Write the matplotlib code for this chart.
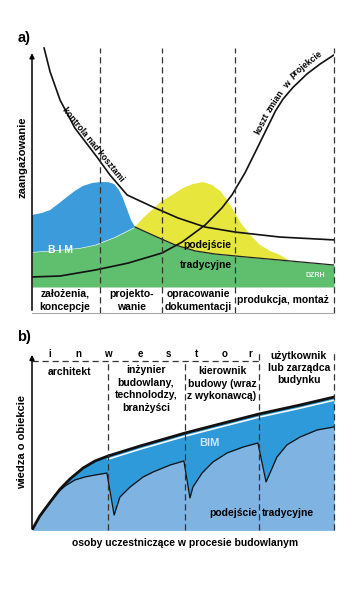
import numpy as np
import matplotlib.pyplot as plt

plt.rcParams['font.family'] = ['Liberation Sans', 'DejaVu Sans']
plt.rcParams['font.weight'] = 'bold'

# ---------- panel a: engagement over project phases (x: 0-100, y: 0-100) ----------
phase_edges = [22.5, 43.0, 67.2, 100]
phase_labels = ['założenia,\nkoncepcje', 'projekto-\nwanie',
                'opracowanie\ndokumentacji', 'produkcja, montaż']
phase_label_x = [10.9, 32.8, 55.2, 83.1]

# "kontrola nad kosztami" - falling curve
control_x = [4.0, 6.0, 9.3, 14.2, 21.5, 25.8, 31.5, 40.7, 48.3, 57.3, 67.2, 82.1, 100]
control_y = [100, 90.0, 78.2, 66.5, 54.4, 46.9, 38.5, 33.1, 28.9, 25.1, 23.0, 20.9, 19.7]

# "koszt zmian w projekcie" - rising curve
change_x = [0, 9.3, 20.9, 31.8, 43.0, 49.7, 57.3, 62.9, 66.2, 70.5, 73.8, 77.8, 80.6,
            83.1, 86.4, 91.1, 95.4, 100]
change_y = [4.2, 4.6, 7.1, 10.0, 14.2, 18.8, 25.9, 33.1, 38.5, 47.7, 56.1, 66.4, 73.6,
            78.6, 83.5, 89.2, 93.3, 97.1]
# words of the curved label, placed along the rising curve
change_words = ['koszt', 'zmian', 'w', 'projekcie']
change_word_x = [76.3, 80.6, 84.4, 90.7]
change_word_y = [68.4, 77.8, 84.4, 92.9]
change_word_rot = [64, 57, 49, 38]

# base effort (green)
base_x = [0, 9.3, 15.9, 20.9, 27.5, 34.1, 40.7, 47.4, 54.0, 60.6, 70.5, 85.4, 100]
base_y = [14.6, 15.5, 16.3, 17.6, 20.9, 25.1, 21.3, 17.6, 15.1, 13.8, 12.6, 10.9, 9.2]

# BIM effort (blue)
bim_x = [0, 3.3, 6.0, 8.6, 11.6, 14.2, 16.9, 19.9, 22.5, 25.2, 27.2, 28.8, 30.1, 31.8, 32.8, 34.1]
bim_y = [30.1, 31.0, 32.2, 34.7, 37.7, 40.2, 42.3, 43.5, 43.9, 43.9, 43.1, 40.6, 37.2, 31.4, 28.0, 25.1]

# traditional approach effort (yellow)
trad_x = [34.1, 36.8, 39.7, 43.0, 46.4, 50.0, 53.3, 56.6, 59.6, 62.3, 64.6, 66.6, 68.9,
          72.2, 75.5, 78.8, 82.1, 85.4]
trad_y = [25.1, 28.9, 32.2, 36.0, 38.5, 41.4, 43.1, 43.9, 42.7, 40.2, 36.4, 32.2, 27.2,
          21.8, 17.6, 15.1, 13.4, 10.9]

# ---------- panel b: knowledge about the building ----------
role_edges = [25.2, 50.7, 75.2, 100]
investor_letters = list('inwestor')
letter_x = [6.0, 15.2, 25.2, 35.8, 45.0, 54.6, 63.9, 72.2]
role_labels = ['architekt', 'inżynier\nbudowlany,\ntechnolodzy,\nbranżyści',
               'kierownik\nbudowy (wraz\nz wykonawcą)', 'użytkownik\nlub zarządca\nbudynku']
role_label_x = [12.6, 37.7, 62.9, 88.4]
role_label_y = [88.8, 79.2, 82.3, 91.0]

know_bim_x = [0, 2.6, 6.0, 9.3, 12.6, 16.9, 20.9, 25.2, 35.8, 50.7, 62.3, 75.2, 88.7, 100]
know_bim_y = [0, 7.9, 15.7, 23.0, 28.7, 34.8, 38.8, 41.6, 47.2, 54.5, 59.6, 65.2, 70.2, 74.7]

know_trad_x = [0, 2.6, 6.0, 7.6, 10.9, 14.2, 17.5, 20.9, 24.8, 27.2, 29.1, 32.5, 36.8, 40.1,
               45.7, 50.3, 52.3, 53.3, 56.3, 59.9, 64.6, 69.9, 74.8, 77.5, 78.8, 81.1, 84.4,
               88.7, 94.4, 100]
know_trad_y = [0, 7.9, 15.7, 19.7, 24.7, 28.1, 29.8, 30.9, 32.0, 8.4, 18.5, 24.2, 29.8, 32.6,
               36.5, 38.8, 18.0, 24.2, 32.0, 38.2, 43.3, 46.6, 48.9, 27.0, 32.0, 41.0, 47.8,
               52.2, 56.2, 57.9]

GREEN, BLUE, YELLOW = '#5fbf6e', '#3b9bdb', '#e6e63c'
DARKBLUE, LIGHTBLUE = '#2f9ad9', '#7eb3e2'
dash = (0, (5, 3))

fig = plt.figure(figsize=(3.6, 5.89), dpi=100)
axa = fig.add_axes([32/360, 302/589, 302/360, 239/589])
axb = fig.add_axes([32/360, 59/589, 302/360, 178/589])
for ax in (axa, axb):
    ax.set_xlim(0, 100)
    ax.set_ylim(0, 100)
    ax.axis('off')

# ---- panel a ----
axa.fill_between(base_x, 0, base_y, color=GREEN, lw=0)
axa.fill(bim_x + base_x[5::-1], bim_y + base_y[5::-1], color=BLUE, lw=0)
axa.fill(trad_x + base_x[11:4:-1], trad_y + base_y[11:4:-1], color=YELLOW, lw=0)
axa.plot(base_x[5:], base_y[5:], color='#222222', lw=0.9)
axa.plot(control_x, control_y, color='#111111', lw=1.2, clip_on=False)
axa.plot(change_x, change_y, color='#111111', lw=1.2)
for x in phase_edges:
    axa.plot([x, x], [-10.9, 100], color='#333333', lw=0.9, ls=dash, clip_on=False)
axa.annotate('', xy=(0, 99), xytext=(0, -10.9),
             arrowprops=dict(arrowstyle='-|>', lw=1.1, color='black', mutation_scale=7))
axa.annotate('', xy=(100.8, 0), xytext=(-3, 0),
             arrowprops=dict(arrowstyle='-|>', lw=1.1, color='black', mutation_scale=7))
axa.plot([0, 100], [-10.9, -10.9], color='#aaaaaa', lw=0.8, clip_on=False)
for x, lab in zip(phase_label_x, phase_labels):
    axa.text(x, -5.6, lab, ha='center', va='center', fontsize=7.5, linespacing=1.4)
axa.text(9.3, 15.5, 'B I M', color='white', ha='center', va='center', fontsize=7.5)
axa.text(57.9, 17.6, 'podejście', ha='center', va='center', fontsize=7.5)
axa.text(57.6, 9.2, 'tradycyjne', ha='center', va='center', fontsize=7.5)
axa.text(93.7, 5.0, 'DZRH', color='#e8f6ea', ha='center', va='center', fontsize=5)
axa.text(20.1, 59.6, 'kontrola nad kosztami', rotation=-51, ha='center', va='center',
         fontsize=6.3, rotation_mode='anchor')
for w, x, y, r in zip(change_words, change_word_x, change_word_y, change_word_rot):
    axa.text(x, y, w, rotation=r, ha='center', va='center', fontsize=6.3,
             rotation_mode='anchor')
axa.text(-3.3, 54.4, 'zaangażowanie', rotation=90, ha='center', va='center', fontsize=8)
axa.text(-2.6, 104.2, 'a)', ha='center', va='center', fontsize=10.5, clip_on=False)

# ---- panel b ----
axb.fill_between(know_bim_x, 0, know_bim_y, color=DARKBLUE, lw=0)
axb.fill_between(know_trad_x, 0, know_trad_y, color=LIGHTBLUE, lw=0)
axb.plot(know_trad_x, know_trad_y, color='#111111', lw=0.9)
top_x = [x for x in know_bim_x if x >= 25.2]
top_y = [y - 1.8 for x, y in zip(know_bim_x, know_bim_y) if x >= 25.2]
axb.plot(top_x, top_y, color='white', lw=1.1)
axb.plot(know_bim_x, know_bim_y, color='#111111', lw=2.0)
for x in role_edges:
    top = 94.9 if x < 75 else 100
    axb.plot([x, x], [0, top], color='#333333', lw=0.9, ls=dash, clip_on=False)
axb.plot([0, 75.2], [94.9, 94.9], color='#333333', lw=0.9, ls=dash, clip_on=False)
axb.annotate('', xy=(0, 100), xytext=(0, -1),
             arrowprops=dict(arrowstyle='-|>', lw=1.1, color='black', mutation_scale=7))
for x, ch in zip(letter_x, investor_letters):
    axb.text(x, 98.6, ch, ha='center', va='center', fontsize=7, clip_on=False)
for x, y, lab in zip(role_label_x, role_label_y, role_labels):
    axb.text(x, y, lab, ha='center', va='center', fontsize=7.5, linespacing=1.3)
axb.text(58.9, 48.9, 'BIM', color='#cfe6f7', ha='center', va='center', fontsize=8)
axb.text(66.6, 9.6, 'podejście', ha='center', va='center', fontsize=7.5)
axb.text(84.8, 9.6, 'tradycyjne', ha='center', va='center', fontsize=7.5)
axb.text(-3.3, 49.4, 'wiedza o obiekcie', rotation=90, ha='center', va='center', fontsize=8)
axb.text(50.7, -7.3, 'osoby uczestniczące w procesie budowlanym', ha='center',
         va='center', fontsize=7.5)
axb.text(-2.6, 108.4, 'b)', ha='center', va='center', fontsize=10.5)

fig.savefig('out.png', dpi=100)
